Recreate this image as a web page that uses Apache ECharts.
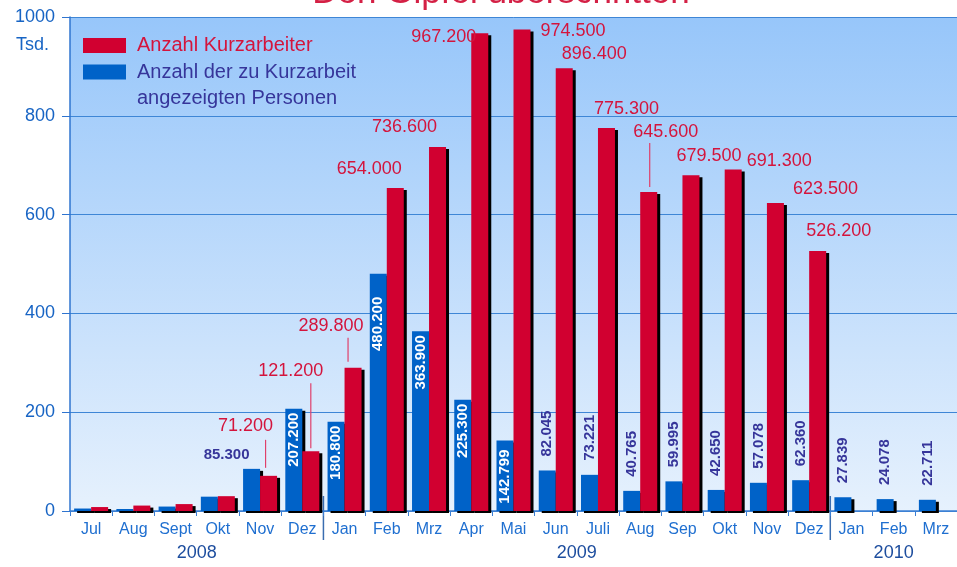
<!DOCTYPE html>
<html>
<head>
<meta charset="utf-8">
<script src="https://cdn.jsdelivr.net/npm/echarts@6/dist/echarts.min.js"></script>
<style>
  html, body { margin: 0; padding: 0; background: #fff; }
  #main { width: 957px; height: 567px; }
</style>
</head>
<body>
<div id="main"></div>
<script>
// Daten (Tsd.)
var months = ['Jul','Aug','Sept','Okt','Nov','Dez','Jan','Feb','Mrz','Apr','Mai','Jun','Juli','Aug','Sep','Okt','Nov','Dez','Jan','Feb','Mrz'];
var years = ['2008', '2009', '2010'];
var yearFirst = [0, 6, 18];
var yearLast = [5, 17, 20];
var kurzarbeiter = [8, 11, 14, 30, 71.2, 121.2, 289.8, 654.0, 736.6, 967.2, 974.5, 896.4, 775.3, 645.6, 679.5, 691.3, 623.5, 526.2, null, null, null];
var angezeigt = [5, 4, 9, 29, 85.3, 207.2, 180.8, 480.2, 363.9, 225.3, 142.799, 82.045, 73.221, 40.765, 59.995, 42.65, 57.078, 62.36, 27.839, 24.078, 22.711];
var yTicks = [0, 200, 400, 600, 800, 1000];

var nameRot = 'Anzahl Kurzarbeiter';
var nameBlau = 'Anzahl der zu Kurzarbeit\nangezeigten Personen';

var RED = '#d10030', BLUE = '#0062c8';
var RED_TXT = '#d4143c', BLUE_TXT = '#36359a';
var BAR_W = 17;

// Beschriftungs-Versatz der roten Werte (dx, dy)
var redOffset = {
  4: [-23, -36], 5: [-20, -66], 6: [-22, -28], 7: [-26, -5], 8: [-33, -6],
  9: [-36, 18], 10: [51, 15], 11: [30, 0], 12: [20, -5], 13: [17, -46],
  14: [18, -5], 15: [46, 6], 16: [50, 0], 17: [21, -6]
};
// Hinweislinien: index -> [dx zur Balkenmitte, Abstand, Länge]
var leader = { 4: [-3, 8, 28], 5: [0, 3, 65], 6: [-5, 6, 24], 13: [1, 5, 44] };

function fmt(v) { return v.toFixed(3); }

var redData = kurzarbeiter.map(function (v, i) {
  var o = redOffset[i];
  return {
    value: v,
    label: o ? { show: true, offset: o } : { show: false }
  };
});

var blueData = angezeigt.map(function (v, i) {
  var lab;
  if (i < 4) {
    lab = { show: false };
  } else if (i === 4) {
    lab = { show: true, position: 'top', offset: [-25, -2], color: BLUE_TXT };
  } else if (i <= 10) {
    // gedrehte Beschriftung: offset[0] negativ = nach unten
    lab = {
      show: true, position: 'insideTop', rotate: 90, align: 'right', verticalAlign: 'middle',
      distance: 4, color: '#fff', offset: i === 7 ? [-19, 0] : (i === 10 ? [-5, 0] : [0, 0])
    };
  } else {
    lab = {
      show: true, position: 'top', rotate: 90, align: 'left', verticalAlign: 'middle',
      distance: 14, color: BLUE_TXT
    };
  }
  return { value: v, label: lab };
});

var myChart = echarts.init(document.getElementById('main'));

var option = {
  animation: false,
  textStyle: { fontFamily: 'Liberation Sans' },
  grid: {
    left: 70, top: 17, width: 891, bottom: 56,
    show: true, borderWidth: 0,
    backgroundColor: new echarts.graphic.LinearGradient(0, 0, 0, 1, [
      { offset: 0, color: '#97c6fa' },
      { offset: 1, color: '#e6f1fd' }
    ])
  },
  legend: [
    {
      left: 83, top: 34.5, padding: 0, orient: 'vertical',
      icon: 'rect', itemWidth: 43, itemHeight: 15, selectedMode: false,
      itemStyle: { shadowColor: 'rgba(0,0,0,0)', shadowOffsetX: 0, shadowOffsetY: 0 },
      textStyle: { fontSize: 20, lineHeight: 22, fontFamily: 'Liberation Sans', padding: [0, 0, 0, 6] },
      data: [{ name: nameRot, textStyle: { color: RED_TXT } }]
    },
    {
      left: 83, top: 33, padding: 0, orient: 'vertical',
      icon: 'rect', itemWidth: 43, itemHeight: 15, selectedMode: false,
      itemStyle: { shadowColor: 'rgba(0,0,0,0)', shadowOffsetX: 0, shadowOffsetY: 0 },
      // Leerzeile davor, damit die erste Zeile neben dem Symbol steht
      formatter: function (name) { return ' \n' + name; },
      textStyle: { fontSize: 20, lineHeight: 26, fontFamily: 'Liberation Sans', padding: [0, 0, 0, 6] },
      data: [{ name: nameBlau, textStyle: { color: BLUE_TXT } }]
    }
  ],
  xAxis: {
    type: 'category',
    data: months,
    axisLine: { lineStyle: { color: '#3b7fd4', width: 1.5 } },
    axisTick: { show: true, length: 5, lineStyle: { color: '#3b7fd4' } },
    axisLabel: { interval: 0, fontSize: 16, color: '#1f6fd0', margin: 11 },
    splitLine: { show: false }
  },
  yAxis: {
    type: 'value',
    min: yTicks[0], max: yTicks[yTicks.length - 1], interval: 200,
    axisLine: { show: true, lineStyle: { color: '#2f74cf', width: 1.5 } },
    axisTick: { show: true, length: 8, lineStyle: { color: '#2f74cf' } },
    axisLabel: { fontSize: 18, color: '#1764c4', margin: 15, formatter: function (v) { return String(v); } },
    splitLine: { show: true, lineStyle: { color: '#3e86d6', width: 1 } }
  },
  series: [
    {
      name: nameBlau,
      type: 'bar',
      barWidth: BAR_W,
      barGap: '0%',
      itemStyle: {
        color: BLUE, borderWidth: 0,
        shadowColor: '#000', shadowOffsetX: 3, shadowOffsetY: 2, shadowBlur: 0
      },
      label: { fontSize: 15, fontWeight: 'bold', formatter: function (p) { return fmt(p.value); } },
      data: blueData
    },
    {
      name: nameRot,
      type: 'bar',
      barWidth: BAR_W,
      barGap: '0%',
      itemStyle: {
        color: RED, borderWidth: 0,
        shadowColor: '#000', shadowOffsetX: 3, shadowOffsetY: 2, shadowBlur: 0
      },
      label: {
        position: 'top', distance: 5, fontSize: 18, color: RED_TXT,
        formatter: function (p) { return fmt(p.value); }
      },
      data: redData
    }
  ]
};
myChart.setOption(option);

// Jahreszahlen, Trennlinien, Einheit, Titel
function addDecor() {
  var y0 = myChart.convertToPixel({ yAxisIndex: 0 }, 0);
  var cx = function (i) { return myChart.convertToPixel({ xAxisIndex: 0 }, i); };
  var els = [];
  years.forEach(function (yr, k) {
    var xc = (cx(yearFirst[k]) + cx(yearLast[k])) / 2;
    els.push({
      type: 'text', x: xc, y: y0 + 42,
      style: { text: yr, fontSize: 18, fontFamily: 'Liberation Sans', fill: '#1d4d9e', align: 'center', verticalAlign: 'middle' }
    });
    if (k > 0) {
      var xb = (cx(yearFirst[k]) + cx(yearLast[k - 1])) / 2;
      els.push({
        type: 'line', shape: { x1: xb, y1: y0 - 15, x2: xb, y2: y0 + 29 },
        style: { stroke: '#3a6db0', lineWidth: 1.5 }
      });
    }
  });
  Object.keys(leader).forEach(function (key) {
    var i = +key, L = leader[key];
    var top = myChart.convertToPixel({ yAxisIndex: 0 }, kurzarbeiter[i]);
    var x = cx(i) + BAR_W / 2 + L[0];
    els.push({
      type: 'line', shape: { x1: x, y1: top - L[1], x2: x, y2: top - L[1] - L[2] },
      style: { stroke: '#e0406a', lineWidth: 1.2 }
    });
  });
  els.push({
    type: 'text', x: 49, y: 45,
    style: { text: 'Tsd.', fontSize: 18, fontFamily: 'Liberation Sans', fill: '#1764c4', align: 'right', verticalAlign: 'middle' }
  });
  els.push({
    type: 'text', x: 501, y: -7,
    style: { text: 'Den Gipfel überschritten', fontSize: 35, fontFamily: 'Liberation Sans', fill: '#d42045', align: 'center', verticalAlign: 'middle' }
  });
  myChart.setOption({ graphic: { elements: els } });
}
addDecor();

window.addEventListener('resize', function () {
  myChart.resize();
});
</script>
</body>
</html>
